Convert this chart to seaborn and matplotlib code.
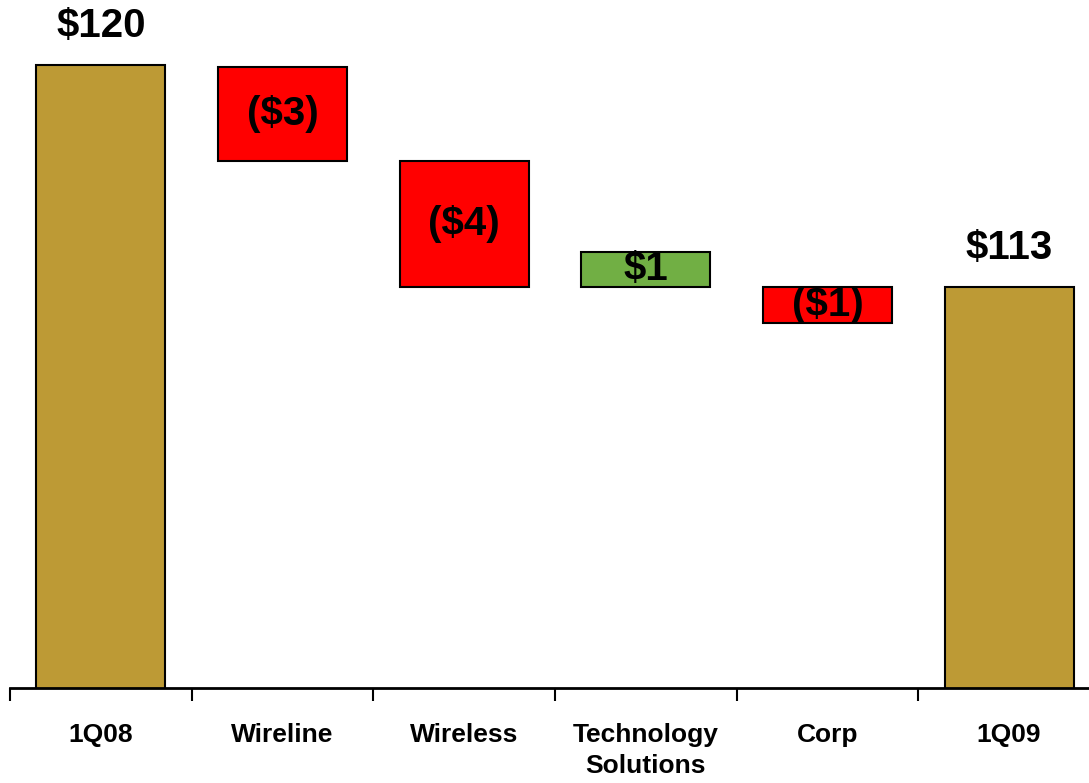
import matplotlib
matplotlib.use("Agg")
import matplotlib.pyplot as plt
from matplotlib import font_manager
from matplotlib.ticker import FixedLocator
import seaborn as sns
import pandas as pd

categories = ["1Q08", "Wireline", "Wireless", "Technology\nSolutions", "Corp", "1Q09"]
bar_top = [120.0, 119.95, 116.97, 114.10, 113.0, 113.0]
bar_bottom = [0.0, 116.97, 113.0, 113.0, 111.85, 0.0]
value_labels = ["$120", "($3)", "($4)", "$1", "($1)", "$113"]
kinds = ["total", "neg", "neg", "pos", "neg", "total"]

colors = {"total": "#BD9A35", "neg": "#FF0000", "pos": "#71AF44"}

sns.set_theme(style="white")
names = {f.name for f in font_manager.fontManager.ttflist}
fam = "Liberation Sans Narrow" if "Liberation Sans Narrow" in names else "Liberation Sans"
plt.rcParams["font.family"] = [fam, "DejaVu Sans"]

df = pd.DataFrame({
    "cat": categories,
    "height": [t - b for t, b in zip(bar_top, bar_bottom)],
})

fig = plt.figure(figsize=(10.89, 7.83), dpi=100)
ax = fig.add_axes([10 / 1089, (783 - 688) / 783, 1 - 10 / 1089, 688 / 783])

sns.barplot(data=df, x="cat", y="height", color="#BD9A35",
            bottom=bar_bottom, width=0.71, errorbar=None,
            edgecolor="black", linewidth=1.5, ax=ax, saturation=1)
for patch, k in zip(ax.patches, kinds):
    patch.set_facecolor(colors[k])

ax.set_ylim(100.35, 122.05)
ax.set_xlim(-0.5, 5.44)

for i, (lab, k) in enumerate(zip(value_labels, kinds)):
    if k == "total":
        y = bar_top[i] + 1.22
    else:
        y = (bar_top[i] + bar_bottom[i]) / 2
    ax.text(i, y, lab, ha="center", va="center",
            fontsize=29, fontweight="bold", color="black")

ax.set_xlabel("")
ax.set_ylabel("")
ax.set_yticks([])
ax.set_xticks(range(len(categories)))
ax.set_xticklabels(categories, fontsize=19, fontweight="bold", linespacing=1.4,
                   va="top", color="black")
ax.tick_params(axis="x", which="major", length=0, pad=25)
ax.xaxis.set_minor_locator(FixedLocator([-0.5, 0.5, 1.5, 2.5, 3.5, 4.5]))
ax.tick_params(axis="x", which="minor", length=9, width=1.5, color="black",
               direction="out", bottom=True)
for s in ["top", "right", "left"]:
    ax.spines[s].set_visible(False)
ax.spines["bottom"].set_color("black")
ax.spines["bottom"].set_linewidth(2)

fig.savefig("out.png", dpi=100)
